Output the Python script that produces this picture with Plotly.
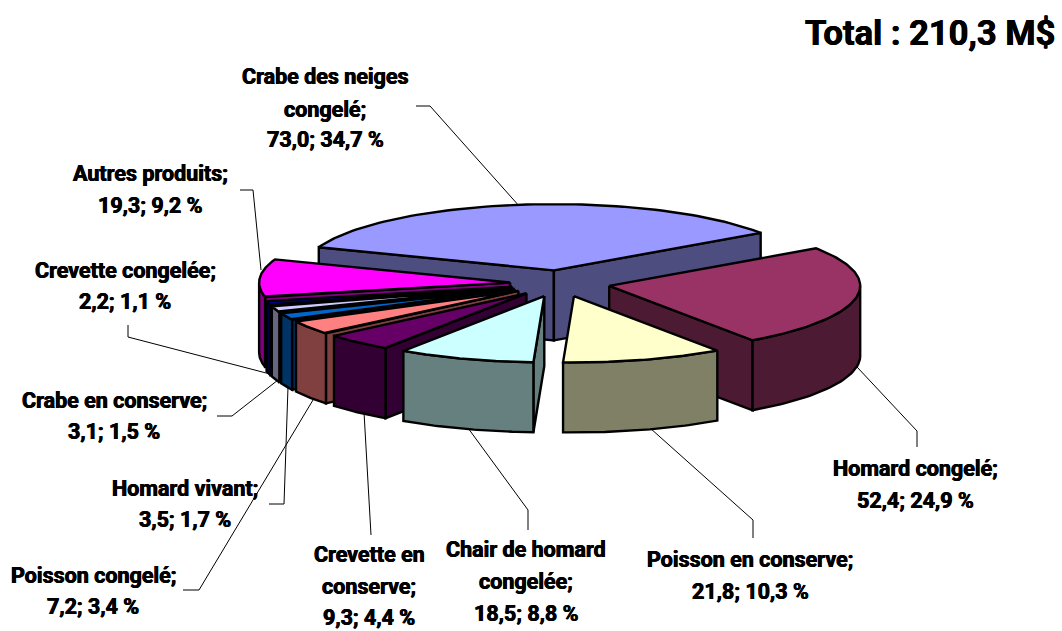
import numpy as np
import plotly.graph_objects as go

# ---- data -------------------------------------------------------------
categories = ["Crabe des neiges congelé", "Homard congelé", "Poisson en conserve",
              "Chair de homard congelée", "Crevette en conserve", "Poisson congelé",
              "Homard vivant", "Crabe en conserve", "Crevette congelée", "Autres produits"]
values = [73.0, 52.4, 21.8, 18.5, 9.3, 7.2, 3.5, 3.1, 2.2, 19.3]
shares = ["34,7", "24,9", "10,3", "8,8", "4,4", "3,4", "1,7", "1,5", "1,1", "9,2"]
top_colors = ["#9999FF", "#993366", "#FFFFCC", "#CCFFFF", "#660066",
              "#FF8080", "#0066CC", "#CCCCFF", "#000080", "#FF00FF"]
side_colors = ["#4D4D80", "#4D1A33", "#808066", "#668080", "#330033",
               "#804040", "#003366", "#666680", "#000040", "#800080"]
title_text = "Total : 210,3 M$"

label_lines = [
    ["Crabe des neiges", "congelé;", "73,0; 34,7 %"],
    ["Homard congelé;", "52,4; 24,9 %"],
    ["Poisson en conserve;", "21,8; 10,3 %"],
    ["Chair de homard", "congelée;", "18,5; 8,8 %"],
    ["Crevette en", "conserve;", "9,3; 4,4 %"],
    ["Poisson congelé;", "7,2; 3,4 %"],
    ["Homard vivant;", "3,5; 1,7 %"],
    ["Crabe en conserve;", "3,1; 1,5 %"],
    ["Crevette congelée;", "2,2; 1,1 %"],
    ["Autres produits;", "19,3; 9,2 %"],
]

# ---- layout of the drawing (pixels of the page) -------------------------
CX, CY = 560.0, 283.5      # pie centre
RX, K = 251.0, 0.264       # horizontal radius and vertical squash
EXPLODE, DEPTH = 50.0, 70.0
START_DEG = 159.5          # clockwise from here
LW = 2.4

label_x = [325, 915, 750, 526, 369, 93, 185, 114, 125, 150]
label_y = [[76, 109, 139], [468, 500], [559, 591], [549, 581, 613], [554, 586, 617],
           [575, 606], [488, 519], [400, 431], [270, 301], [173, 205]]
leaders = [
    [(416, 106), (430, 106), (520, 207)],
    [(857, 367), (917, 431), (917, 447)],
    [(650, 428), (753, 520), (753, 538)],
    [(468, 428), (528, 510), (528, 530)],
    [(364, 412), (371, 535)],
    [(183, 590), (199, 590), (313, 400)],
    [(269, 504), (284, 504), (288, 387)],
    [(217, 416), (232, 416), (278, 380)],
    [(128, 325), (128, 337), (270, 374)],
    [(240, 190), (253, 190), (261, 270)],
]
paint_order = [0, 9, 8, 7, 6, 5, 4, 1, 2, 3]

fig = go.Figure()


def poly(xs, ys, fill, name):
    fig.add_trace(go.Scatter(x=list(xs), y=list(ys), mode="lines", fill="toself",
                             fillcolor=fill, line=dict(color="black", width=LW),
                             name=name, hoverinfo="name", showlegend=False))


for pts in leaders:
    fig.add_trace(go.Scatter(x=[p[0] for p in pts], y=[p[1] for p in pts], mode="lines",
                             line=dict(color="black", width=1), hoverinfo="skip",
                             showlegend=False))

total = sum(values)
spans = [v / total * 360.0 for v in values]
starts = [START_DEG - sum(spans[:i]) for i in range(len(values))]


def pos(ax, ay, deg):
    r = np.radians(deg)
    return ax + RX * np.cos(r), ay - RX * K * np.sin(r)


for i in paint_order:
    a0, a1 = starts[i], starts[i] - spans[i]
    mid = np.radians((a0 + a1) / 2)
    ax = CX + EXPLODE * np.cos(mid)
    ay = CY - EXPLODE * K * np.sin(mid)
    name = categories[i]

    # radial walls, only those turned towards the viewer
    if np.sin(np.radians(a0 + 90)) < 0:
        px, py = pos(ax, ay, a0)
        poly([ax, px, px, ax, ax], [ay, py, py + DEPTH, ay + DEPTH, ay], side_colors[i], name)
    if np.sin(np.radians(a1 - 90)) < 0:
        px, py = pos(ax, ay, a1)
        poly([ax, px, px, ax, ax], [ay, py, py + DEPTH, ay + DEPTH, ay], side_colors[i], name)

    # outer wall: the part of the rim on the front half
    front = []
    for k in range(-2, 2):
        lo, hi = max(a1, -180 + 360 * k), min(a0, 0 + 360 * k)
        if hi > lo:
            front.append((lo, hi))
    for lo, hi in front:
        t = np.linspace(hi, lo, 40)
        px, py = pos(ax, ay, t)
        poly(np.r_[px, px[::-1], px[0]], np.r_[py, py[::-1] + DEPTH, py[0]], side_colors[i], name)

    # top face
    t = np.linspace(a0, a1, 80)
    px, py = pos(ax, ay, t)
    poly(np.r_[ax, px, ax], np.r_[ay, py, ay], top_colors[i], name)

FONT = "Roboto"
HEAVY = "0.4px 0 0 black, -0.4px 0 0 black"
annotations = [dict(x=1057, y=33, xref="x", yref="y", text=title_text, showarrow=False,
                    xanchor="right", yanchor="middle",
                    font=dict(family=FONT, size=34.5, color="black", weight=700, shadow=HEAVY))]
for lines, x, ys in zip(label_lines, label_x, label_y):
    for line, y in zip(lines, ys):
        annotations.append(dict(x=x, y=y, xref="x", yref="y", text=line, showarrow=False,
                                xanchor="center", yanchor="middle",
                                font=dict(family=FONT, size=21.5, color="black", weight=700,
                                          shadow=HEAVY)))

fig.update_layout(
    width=1062, height=631, margin=dict(l=0, r=0, t=0, b=0),
    paper_bgcolor="white", plot_bgcolor="white", showlegend=False,
    xaxis=dict(range=[0, 1062], visible=False, fixedrange=True),
    yaxis=dict(range=[631, 0], visible=False, fixedrange=True),
    annotations=annotations,
)
fig.write_html("out.html", config={"displayModeBar": False},
               post_script="document.body.style.margin='0';document.documentElement.style.overflow='hidden';")
